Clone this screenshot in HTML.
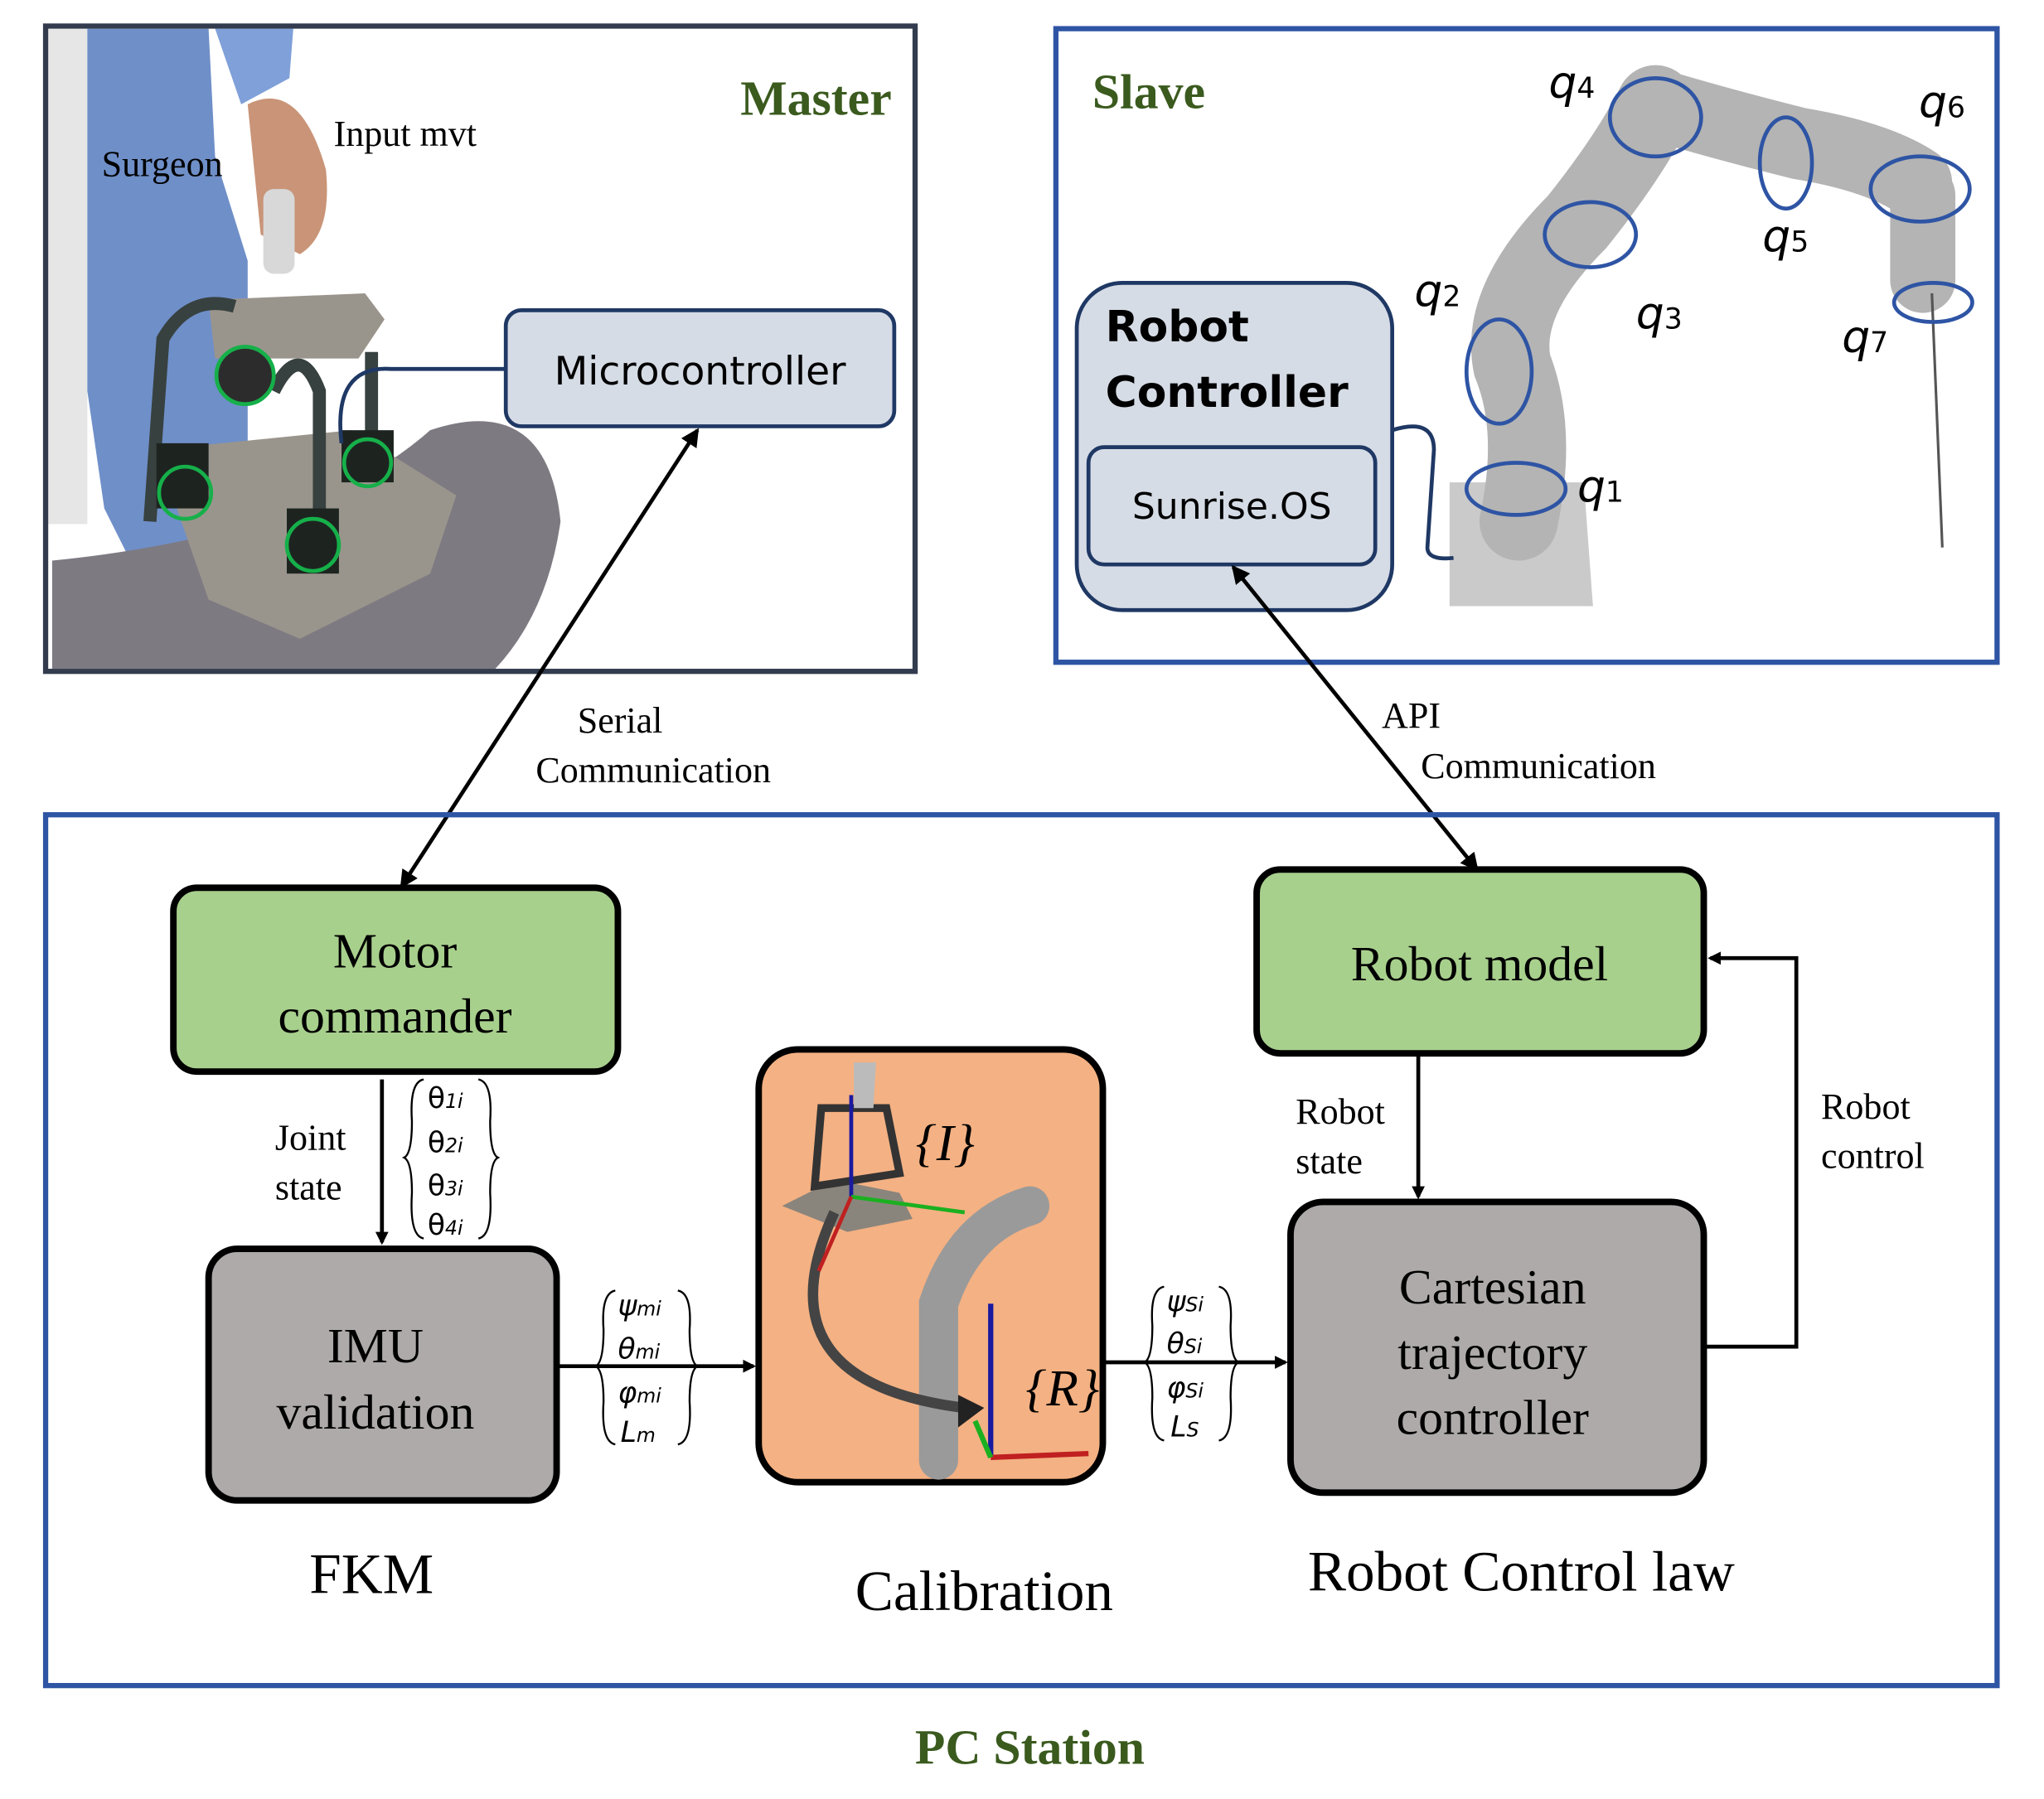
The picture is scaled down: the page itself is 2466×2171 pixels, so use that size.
<!DOCTYPE html>
<html><head><meta charset="utf-8"><style>html,body{margin:0;padding:0;background:#fff}svg{display:block}</style></head>
<body>
<svg width="2466" height="2171" viewBox="0 0 1568 1380" preserveAspectRatio="none" xmlns="http://www.w3.org/2000/svg">
<defs>
<marker id="ah" markerWidth="10" markerHeight="10" refX="8" refY="5" orient="auto" markerUnits="userSpaceOnUse"><path d="M0,0 L10,5 L0,10 z" fill="#000"/></marker>
<marker id="ahs" markerWidth="14" markerHeight="14" refX="12" refY="7" orient="auto-start-reverse" markerUnits="userSpaceOnUse"><path d="M0,0 L14,7 L0,14 z" fill="#000"/></marker>
</defs>
<rect width="1568" height="1380" fill="#fff"/>

<!-- Master scene -->
<rect x="37" y="22" width="663" height="491" fill="#fff"/>
<rect x="37" y="22" width="30" height="380" fill="#e6e6e6"/>
<path d="M67,22 L160,22 L165,120 L190,200 L190,430 L100,430 L80,390 L67,300 z" fill="#6f8fc8"/>
<path d="M165,22 L225,22 L222,60 L185,80 z" fill="#7fa0d8"/>
<path d="M40,430 Q240,410 330,330 Q420,300 430,400 Q420,470 380,513 L40,513 z" fill="#7e7a82"/>
<path d="M190,80 Q230,60 250,130 Q255,180 230,195 L200,180 z" fill="#c99478"/>
<rect x="202" y="145" width="24" height="65" rx="8" fill="#d8d8d8"/>
<path d="M160,230 L280,225 L295,245 L275,275 L165,275 z" fill="#9a958c"/>
<path d="M120,345 L270,330 L350,380 L330,440 L230,490 L160,460 z" fill="#9a958c"/>
<path d="M115,400 L125,260 Q145,225 180,235" fill="none" stroke="#37413f" stroke-width="10"/>
<path d="M210,300 Q230,260 245,300 L245,420" fill="none" stroke="#37413f" stroke-width="10"/>
<path d="M285,270 L285,350" stroke="#37413f" stroke-width="10"/>
<rect x="120" y="340" width="40" height="50" fill="#1d2420"/>
<rect x="262" y="330" width="40" height="40" fill="#1d2420"/>
<rect x="220" y="390" width="40" height="50" fill="#1d2420"/>
<circle cx="188" cy="288" r="22" fill="#2c2c2c"/>
<g fill="none" stroke="#16b04a" stroke-width="3">
<circle cx="188" cy="288" r="22"/><circle cx="142" cy="378" r="20"/><circle cx="282" cy="355" r="18"/><circle cx="240" cy="418" r="20"/>
</g>
<path d="M390,283 L300,283 Q255,280 262,340" fill="none" stroke="#1f3864" stroke-width="3"/>
<rect x="35" y="20" width="667" height="495" fill="none" stroke="#323c4e" stroke-width="4"/>
<text x="684" y="88" text-anchor="end" font-family="Liberation Serif,serif" font-weight="bold" font-size="38" fill="#3a5a1e">Master</text>
<text x="256" y="112" font-family="Liberation Serif,serif" font-size="28">Input mvt</text>
<text x="78" y="135" font-family="Liberation Serif,serif" font-size="28">Surgeon</text>
<rect x="388" y="238" width="298" height="89" rx="12" fill="#d6dce6" stroke="#1f3864" stroke-width="3"/>
<text x="537" y="295" text-anchor="middle" font-family="DejaVu Sans,sans-serif" font-size="30">Microcontroller</text>

<!-- Slave -->
<rect x="810" y="22" width="722" height="486" fill="none" stroke="#2e54a4" stroke-width="4"/>
<text x="838" y="83" font-family="Liberation Serif,serif" font-weight="bold" font-size="38" fill="#3a5a1e">Slave</text>
<path d="M1112,370 L1215,370 L1222,465 L1112,465 z" fill="#cacaca"/>
<g fill="none" stroke="#b4b4b4" stroke-linecap="round">
<path d="M1165,400 Q1180,330 1160,280 Q1150,230 1210,170 Q1250,120 1270,80" stroke-width="60"/>
<path d="M1270,80 Q1320,95 1380,110 Q1440,120 1470,140" stroke-width="55"/>
<path d="M1475,150 L1475,215" stroke-width="50"/>
</g>
<line x1="1482" y1="225" x2="1490" y2="420" stroke="#555" stroke-width="2"/>
<g fill="none" stroke="#2e54a4" stroke-width="3">
<ellipse cx="1163" cy="375" rx="38" ry="20"/><ellipse cx="1150" cy="285" rx="25" ry="40"/>
<ellipse cx="1220" cy="180" rx="35" ry="25"/><ellipse cx="1270" cy="90" rx="35" ry="30"/>
<ellipse cx="1370" cy="125" rx="20" ry="35"/><ellipse cx="1473" cy="145" rx="38" ry="25"/>
<ellipse cx="1483" cy="232" rx="30" ry="15"/>
</g>
<g font-family="DejaVu Sans,sans-serif" font-style="italic" font-size="34">
<text x="1210" y="385">q<tspan font-size="22" font-style="normal">1</tspan></text>
<text x="1085" y="235">q<tspan font-size="22" font-style="normal">2</tspan></text>
<text x="1255" y="252">q<tspan font-size="22" font-style="normal">3</tspan></text>
<text x="1188" y="75">q<tspan font-size="22" font-style="normal">4</tspan></text>
<text x="1352" y="193">q<tspan font-size="22" font-style="normal">5</tspan></text>
<text x="1472" y="90">q<tspan font-size="22" font-style="normal">6</tspan></text>
<text x="1413" y="270">q<tspan font-size="22" font-style="normal">7</tspan></text>
</g>
<path d="M1068,330 Q1100,320 1100,345 L1095,420 Q1095,430 1115,428" fill="none" stroke="#1f3864" stroke-width="3"/>
<rect x="826" y="217" width="242" height="251" rx="35" fill="#d6dce6" stroke="#1f3864" stroke-width="3"/>
<text x="848" y="262" font-family="DejaVu Sans,sans-serif" font-weight="bold" font-size="33">Robot</text>
<text x="848" y="312" font-family="DejaVu Sans,sans-serif" font-weight="bold" font-size="33">Controller</text>
<rect x="835" y="343" width="220" height="90" rx="12" fill="#d6dce6" stroke="#1f3864" stroke-width="3"/>
<text x="945" y="398" text-anchor="middle" font-family="DejaVu Sans,sans-serif" font-size="28">Sunrise.OS</text>

<!-- Comm arrows -->
<line x1="535" y1="330" x2="308" y2="680" stroke="#000" stroke-width="3" marker-start="url(#ahs)" marker-end="url(#ahs)"/>
<line x1="946" y1="435" x2="1133" y2="667" stroke="#000" stroke-width="3" marker-start="url(#ahs)" marker-end="url(#ahs)"/>
<text x="443" y="562" font-family="Liberation Serif,serif" font-size="28">Serial</text>
<text x="411" y="600" font-family="Liberation Serif,serif" font-size="28">Communication</text>
<text x="1060" y="558" font-family="Liberation Serif,serif" font-size="28">API</text>
<text x="1090" y="597" font-family="Liberation Serif,serif" font-size="28">Communication</text>

<!-- PC Station -->
<rect x="35" y="625" width="1497" height="668" fill="none" stroke="#2e54a4" stroke-width="4"/>
<text x="790" y="1353" text-anchor="middle" font-family="Liberation Serif,serif" font-weight="bold" font-size="38" fill="#3a5a1e">PC Station</text>

<g font-family="Liberation Serif,serif" font-size="38" text-anchor="middle">
<rect x="133" y="681" width="341" height="141" rx="18" fill="#a8d08d" stroke="#000" stroke-width="5"/>
<text x="303" y="742">Motor</text><text x="303" y="792">commander</text>
<rect x="964" y="667" width="343" height="141" rx="18" fill="#a8d08d" stroke="#000" stroke-width="5"/>
<text x="1135" y="752">Robot model</text>
<rect x="160" y="958" width="267" height="193" rx="22" fill="#aeaaaa" stroke="#000" stroke-width="5"/>
<text x="288" y="1045">IMU</text><text x="288" y="1096">validation</text>
<rect x="990" y="922" width="317" height="223" rx="25" fill="#aeaaaa" stroke="#000" stroke-width="5"/>
<text x="1145" y="1000">Cartesian</text><text x="1145" y="1050">trajectory</text><text x="1145" y="1100">controller</text>
<rect x="582" y="805" width="264" height="332" rx="30" fill="#f4b183" stroke="#000" stroke-width="5"/>
<text x="285" y="1222" font-size="44">FKM</text>
<text x="755" y="1235" font-size="44">Calibration</text>
<text x="1167" y="1220" font-size="44">Robot Control law</text>
</g>
<!-- calibration picture -->
<path d="M600,925 L640,905 L690,915 L700,935 L650,945 z" fill="#8a857c"/>
<path d="M630,850 L680,850 L690,900 L625,910 z" fill="none" stroke="#333" stroke-width="6"/>
<path d="M655,815 L672,815 L670,850 L655,850z" fill="#bbb"/>
<path d="M720,1120 L720,1000 Q740,940 790,925" fill="none" stroke="#9a9a9a" stroke-width="30" stroke-linecap="round"/>
<path d="M640,930 Q580,1060 740,1080" fill="none" stroke="#444" stroke-width="8"/>
<path d="M735,1070 L755,1080 L735,1095z" fill="#222"/>
<line x1="653" y1="918" x2="653" y2="840" stroke="#1a1aa0" stroke-width="3"/>
<line x1="653" y1="918" x2="740" y2="930" stroke="#1bb020" stroke-width="3"/>
<line x1="653" y1="918" x2="628" y2="975" stroke="#c02020" stroke-width="3"/>
<line x1="760" y1="1118" x2="760" y2="1000" stroke="#1a1aa0" stroke-width="4"/>
<line x1="760" y1="1118" x2="835" y2="1115" stroke="#c02020" stroke-width="4"/>
<line x1="760" y1="1118" x2="748" y2="1090" stroke="#1bb020" stroke-width="4"/>
<text x="725" y="890" text-anchor="middle" font-family="Liberation Serif,serif" font-style="italic" font-size="40">{I}</text>
<text x="815" y="1078" text-anchor="middle" font-family="Liberation Serif,serif" font-style="italic" font-size="40">{R}</text>

<!-- arrows -->
<g stroke="#000" stroke-width="3" fill="none">
<line x1="293" y1="828" x2="293" y2="953" marker-end="url(#ah)"/>
<line x1="427" y1="1048" x2="578" y2="1048" marker-end="url(#ah)"/>
<line x1="846" y1="1045" x2="986" y2="1045" marker-end="url(#ah)"/>
<line x1="1088" y1="808" x2="1088" y2="918" marker-end="url(#ah)"/>
<polyline points="1307,1033 1378,1033 1378,735 1312,735" marker-end="url(#ah)"/>
</g>
<g font-family="Liberation Serif,serif" font-size="28">
<text x="211" y="882">Joint</text><text x="211" y="920">state</text>
<text x="994" y="862">Robot</text><text x="994" y="900">state</text>
<text x="1397" y="858">Robot</text><text x="1397" y="896">control</text>
</g>
<g font-family="DejaVu Sans,sans-serif" font-size="22">
<text x="328" y="850">θ<tspan font-size="15" font-style="italic">1i</tspan></text>
<text x="328" y="884">θ<tspan font-size="15" font-style="italic">2i</tspan></text>
<text x="328" y="917">θ<tspan font-size="15" font-style="italic">3i</tspan></text>
<text x="328" y="947">θ<tspan font-size="15" font-style="italic">4i</tspan></text>
<text x="474" y="1009" font-style="italic">ψ<tspan font-size="15">mi</tspan></text>
<text x="474" y="1042" font-style="italic">θ<tspan font-size="15">mi</tspan></text>
<text x="474" y="1076" font-style="italic">φ<tspan font-size="15">mi</tspan></text>
<text x="476" y="1106" font-style="italic">L<tspan font-size="15">m</tspan></text>
<text x="895" y="1006" font-style="italic">ψ<tspan font-size="15">Si</tspan></text>
<text x="895" y="1038" font-style="italic">θ<tspan font-size="15">Si</tspan></text>
<text x="895" y="1072" font-style="italic">φ<tspan font-size="15">Si</tspan></text>
<text x="898" y="1102" font-style="italic">L<tspan font-size="15">S</tspan></text>
</g>
<g fill="none" stroke="#000" stroke-width="1.5">
<path d="M325,828 Q314,830 316,860 Q316,885 310,888 Q316,891 316,915 Q314,948 325,950"/>
<path d="M367,828 Q378,830 376,860 Q376,885 382,888 Q376,891 376,915 Q378,948 367,950"/>
<path d="M472,990 Q461,992 463,1020 Q463,1045 457,1048 Q463,1051 463,1075 Q461,1106 472,1108"/>
<path d="M520,990 Q531,992 529,1020 Q529,1045 535,1048 Q529,1051 529,1075 Q531,1106 520,1108"/>
<path d="M893,987 Q882,989 884,1017 Q884,1042 878,1045 Q884,1048 884,1072 Q882,1103 893,1105"/>
<path d="M935,987 Q946,989 944,1017 Q944,1042 950,1045 Q944,1048 944,1072 Q946,1103 935,1105"/>
</g>
</svg>
</body></html>
